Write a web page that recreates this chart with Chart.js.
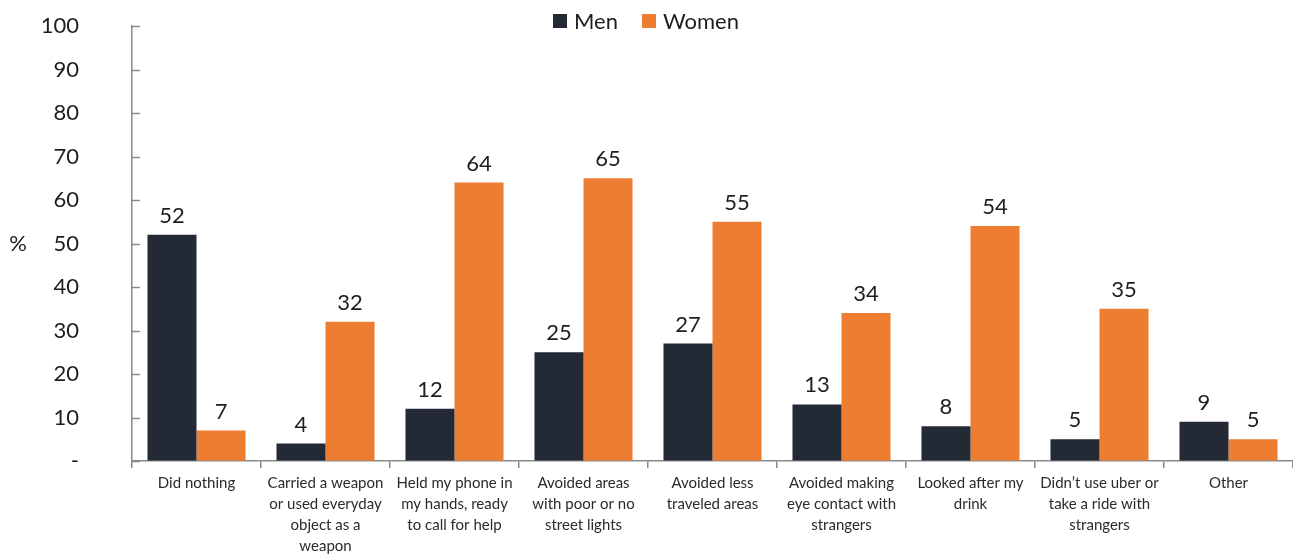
<!DOCTYPE html>
<html>
<head>
<meta charset="utf-8">
<title>Precautions taken</title>
<script src="https://cdn.jsdelivr.net/npm/chart.js@4/dist/chart.umd.min.js"></script>
<style>
  html, body { margin: 0; padding: 0; background: #fff; }
  #wrap { width: 1293px; height: 554px; position: relative; }
</style>
</head>
<body>
<div id="wrap"><canvas id="bar-chart"></canvas></div>
<script>
var categories = [
    ['Did nothing'],
    ['Carried a weapon', 'or used everyday', 'object as a', 'weapon'],
    ['Held my phone in', 'my hands, ready', 'to call for help'],
    ['Avoided areas', 'with poor or no', 'street lights'],
    ['Avoided less', 'traveled areas'],
    ['Avoided making', 'eye contact with', 'strangers'],
    ['Looked after my', 'drink'],
    ['Didn\u2019t use uber or', 'take a ride with', 'strangers'],
    ['Other']
];
var menValues = [52, 4, 12, 25, 27, 13, 8, 5, 9];
var womenValues = [7, 32, 64, 65, 55, 34, 54, 35, 5];
var seriesNames = ['Men', 'Women'];
var seriesColors = ['#232a36', '#ed7d31'];

var FONT = 'Lato, "Open Sans", sans-serif';
var AXIS_COLOR = '#8a8a8a';

// value labels, inward y ticks, the "%" label and the legend
var extras = {
    id: 'extras',
    afterDatasetsDraw: function (chart) {
        var ctx = chart.ctx;
        ctx.save();
        ctx.fillStyle = '#1e1e1e';
        ctx.font = '22px ' + FONT;
        ctx.textAlign = 'center';
        ctx.textBaseline = 'alphabetic';
        chart.data.datasets.forEach(function (ds, i) {
            chart.getDatasetMeta(i).data.forEach(function (bar, j) {
                ctx.fillText(String(ds.data[j]), bar.x, bar.y - 12);
            });
        });

        var y = chart.scales.y;
        var area = chart.chartArea;
        ctx.strokeStyle = AXIS_COLOR;
        ctx.lineWidth = 1.5;
        y.ticks.forEach(function (t) {
            var py = Math.round(y.getPixelForValue(t.value)) + 0.5;
            ctx.beginPath();
            ctx.moveTo(area.left, py);
            ctx.lineTo(area.left + 8, py);
            ctx.stroke();
        });

        ctx.textAlign = 'center';
        ctx.textBaseline = 'middle';
        ctx.fillText('%', 18, y.getPixelForValue(50));

        // legend
        var lx = [553, 642];
        ctx.textAlign = 'left';
        ctx.textBaseline = 'alphabetic';
        seriesNames.forEach(function (name, i) {
            ctx.fillStyle = seriesColors[i];
            ctx.fillRect(lx[i], 14, 14, 14);
            ctx.fillStyle = '#1e1e1e';
            ctx.fillText(name, lx[i] + 21, 29);
        });
        ctx.restore();
    }
};

var ctx = document.getElementById('bar-chart');
new Chart(ctx, {
    type: 'bar',
    data: {
        labels: categories,
        datasets: [{
            label: seriesNames[0],
            data: menValues,
            backgroundColor: seriesColors[0],
            categoryPercentage: 0.76,
            barPercentage: 1.0
        }, {
            label: seriesNames[1],
            data: womenValues,
            backgroundColor: seriesColors[1],
            categoryPercentage: 0.76,
            barPercentage: 1.0
        }]
    },
    options: {
        responsive: true,
        maintainAspectRatio: false,
        animation: false,
        layout: { padding: { top: 26, right: 0, bottom: 0, left: 0 } },
        plugins: {
            legend: { display: false },
            tooltip: { enabled: false }
        },
        scales: {
            x: {
                grid: {
                    display: true,
                    drawOnChartArea: false,
                    drawTicks: true,
                    tickLength: 7,
                    offset: true,
                    color: AXIS_COLOR,
                    lineWidth: 1.5
                },
                border: { display: true, color: AXIS_COLOR, width: 1.5 },
                ticks: {
                    autoSkip: false,
                    maxRotation: 0,
                    minRotation: 0,
                    padding: 5,
                    color: '#2b2b2b',
                    font: { family: FONT, size: 15, lineHeight: 1.4 }
                },
                afterFit: function (scale) { scale.height = 93; }
            },
            y: {
                min: 0,
                max: 100,
                // outer tick marks hidden; the inward ones are drawn by the plugin
                grid: {
                    display: true,
                    drawOnChartArea: false,
                    drawTicks: true,
                    tickLength: 45,
                    tickColor: 'rgba(0,0,0,0)'
                },
                border: { display: true, color: AXIS_COLOR, width: 1.5 },
                ticks: {
                    stepSize: 10,
                    padding: 8,
                    color: '#1e1e1e',
                    font: { family: FONT, size: 22 },
                    callback: function (v) { return v === 0 ? '-' : v; }
                },
                afterFit: function (scale) { scale.width = 132; }
            }
        }
    },
    plugins: [extras]
});
</script>
</body>
</html>
